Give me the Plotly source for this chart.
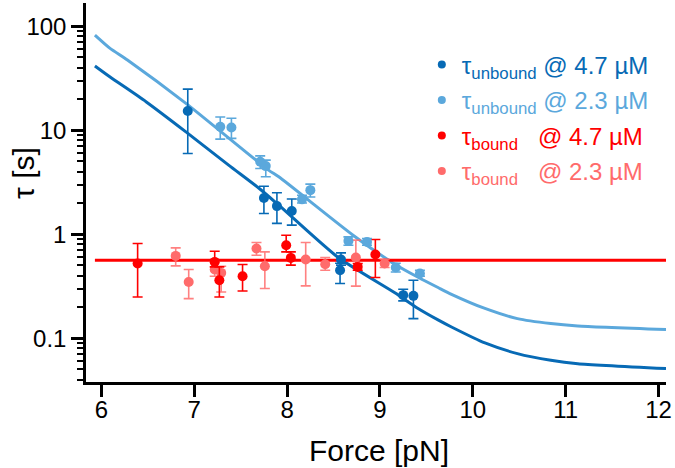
import plotly.graph_objects as go

# Measured lifetimes: unbound state at 4.7 uM and 2.3 uM
force_unbound_47 = [6.93, 7.75, 7.89, 8.05, 8.58, 8.57, 9.25, 9.36]
tau_unbound_47 = [15.3, 2.23, 1.86, 1.67, 0.570, 0.450, 0.259, 0.255]
upper_unbound_47 = [24.8, 2.89, 2.50, 2.18, 0.660, 0.525, 0.295, 0.360]
lower_unbound_47 = [5.97, 1.58, 1.27, 1.22, 0.503, 0.335, 0.228, 0.154]

force_unbound_23 = [7.28, 7.40, 7.71, 7.77, 8.16, 8.25, 8.66, 8.86, 9.17, 9.43]
tau_unbound_23 = [10.8, 10.6, 4.96, 4.51, 2.16, 2.65, 0.861, 0.842, 0.478, 0.418]
upper_unbound_23 = [13.4, 13.0, 5.66, 5.15, 2.37, 3.03, 0.941, 0.908, 0.525, 0.450]
lower_unbound_23 = [8.20, 8.33, 4.28, 3.56, 1.99, 2.28, 0.783, 0.783, 0.433, 0.394]

# Measured lifetimes: bound state at 4.7 uM and 2.3 uM
force_bound_47 = [6.39, 7.22, 7.27, 7.52, 7.99, 8.04, 8.76, 8.95]
tau_bound_47 = [0.522, 0.541, 0.360, 0.394, 0.783, 0.591, 0.484, 0.637]
upper_bound_47 = [0.813, 0.685, 0.484, 0.510, 0.977, 0.675, 0.522, 0.888]
lower_bound_47 = [0.249, 0.484, 0.249, 0.284, 0.675, 0.503, 0.450, 0.383]

force_bound_23 = [6.80, 6.94, 7.22, 7.29, 7.67, 7.76, 8.20, 8.41, 8.74, 9.05]
tau_bound_23 = [0.618, 0.347, 0.457, 0.424, 0.728, 0.491, 0.570, 0.514, 0.596, 0.522]
upper_bound_23 = [0.738, 0.457, 0.537, 0.491, 0.831, 0.675, 0.831, 0.596, 0.875, 0.574]
lower_bound_23 = [0.495, 0.240, 0.394, 0.278, 0.627, 0.300, 0.318, 0.450, 0.316, 0.478]

# Model curves
fit_force_47 = [5.93, 6.09, 6.48, 6.91, 7.37, 7.70, 7.91, 8.55, 9.16, 9.41, 9.63,
                9.77, 10.13, 10.48, 10.84, 11.13, 12.08]
fit_tau_47 = [41.4, 32.6, 18.8, 9.64, 4.61, 2.75, 1.90, 0.596, 0.273, 0.193, 0.149,
              0.128, 0.0898, 0.0710, 0.0612, 0.0567, 0.0509]

fit_force_23 = [5.93, 6.09, 6.28, 6.91, 7.80, 7.91, 8.71, 9.16, 9.41, 9.63, 9.77,
                10.13, 10.48, 10.84, 11.13, 12.08]
fit_tau_23 = [82.2, 61.6, 47.2, 18.1, 4.13, 3.56, 0.977, 0.514, 0.385, 0.305, 0.264,
              0.193, 0.154, 0.138, 0.131, 0.121]

fit_force_bound = [5.93, 12.08]
fit_tau_bound = [0.561, 0.561]

# Axis ticks
x_ticks = [6, 7, 8, 9, 10, 11, 12]
y_ticks = [0.1, 1, 10, 100]
y_tick_text = ["0.1", "1", "10", "100"]

DARK_BLUE = "#076ab5"
LIGHT_BLUE = "#5ba8dc"
RED = "#ff0000"
PINK = "#ff6b6b"

FONT = "Liberation Sans, Arial, Helvetica, sans-serif"

fig = go.Figure()

fig.add_trace(go.Scatter(x=fit_force_23, y=fit_tau_23, mode="lines",
                         line=dict(color=LIGHT_BLUE, width=3, shape="spline", smoothing=0.6),
                         showlegend=False, hoverinfo="skip"))
fig.add_trace(go.Scatter(x=fit_force_47, y=fit_tau_47, mode="lines",
                         line=dict(color=DARK_BLUE, width=3, shape="spline", smoothing=0.6),
                         showlegend=False, hoverinfo="skip"))
fig.add_trace(go.Scatter(x=fit_force_bound, y=fit_tau_bound, mode="lines",
                         line=dict(color=RED, width=3),
                         showlegend=False, hoverinfo="skip"))


def points(force, tau, upper, lower, color, err_color=None):
    plus = [u - t for u, t in zip(upper, tau)]
    minus = [t - l for t, l in zip(tau, lower)]
    return go.Scatter(
        x=force, y=tau, mode="markers", showlegend=False,
        marker=dict(color=color, size=10, line=dict(width=0)),
        error_y=dict(type="data", symmetric=False, array=plus, arrayminus=minus,
                     color=err_color or color, thickness=1.6, width=5),
    )


def legend_entry(sub, conc, color, pad, group):
    # legend-only entry with a smaller dot than the data markers
    name = (f"<span style='color:{color}'>τ<sub>{sub}</sub>"
            + "\u00a0" * pad + f" @ {conc} µM</span>")
    return go.Scatter(x=[None], y=[None], mode="markers", name=name,
                      legendgroup=group,
                      marker=dict(color=color, size=8), showlegend=True)


fig.add_trace(points(force_bound_23, tau_bound_23, upper_bound_23, lower_bound_23,
                     PINK, err_color="rgba(255,107,107,0.85)"))
fig.add_trace(points(force_bound_47, tau_bound_47, upper_bound_47, lower_bound_47, RED))
fig.add_trace(points(force_unbound_23, tau_unbound_23, upper_unbound_23, lower_unbound_23,
                     LIGHT_BLUE))
fig.add_trace(points(force_unbound_47, tau_unbound_47, upper_unbound_47, lower_unbound_47,
                     DARK_BLUE))

fig.add_trace(legend_entry("unbound", "4.7", DARK_BLUE, 0, "a"))
fig.add_trace(legend_entry("unbound", "2.3", LIGHT_BLUE, 0, "b"))
fig.add_trace(legend_entry("bound", "4.7", RED, 2, "c"))
fig.add_trace(legend_entry("bound", "2.3", PINK, 2, "d"))

fig.update_layout(
    width=675, height=468,
    margin=dict(l=86, r=6, t=3, b=86),
    plot_bgcolor="white", paper_bgcolor="white",
    font=dict(family=FONT, size=24, color="black"),
    legend=dict(x=0.579, y=0.896, xanchor="left", yanchor="top",
                traceorder="grouped", tracegroupgap=1.3, bgcolor="rgba(0,0,0,0)",
                font=dict(family=FONT, size=24), itemwidth=30),
    xaxis=dict(range=[5.834, 12.08], tickvals=x_ticks, showgrid=False, zeroline=False,
               showline=True, linecolor="black", linewidth=2.5,
               ticks="outside", ticklen=12, tickwidth=2.5, tickcolor="black",
               ticklabelstandoff=-8,
               tickfont=dict(family=FONT, size=24)),
    yaxis=dict(type="log", range=[-1.422, 2.223], tickvals=y_ticks, ticktext=y_tick_text,
               showgrid=False, zeroline=False,
               showline=True, linecolor="black", linewidth=2.5,
               ticks="outside", ticklen=12, tickwidth=2.5, tickcolor="black",
               tickfont=dict(family=FONT, size=24),
               minor=dict(ticks="outside", ticklen=6, tickwidth=2, tickcolor="black",
                          tickvals=[m * 10 ** e for e in range(-2, 3) for m in range(2, 10)],
                          showgrid=False)),
    annotations=[
        dict(text="Force [pN]", xref="paper", yref="paper", x=0.506, y=-0.18,
             xanchor="center", yanchor="middle", showarrow=False,
             font=dict(family=FONT, size=30)),
        dict(text="τ [s]", xref="paper", yref="paper", x=-0.109, y=0.551,
             xanchor="center", yanchor="middle", textangle=-90, showarrow=False,
             font=dict(family=FONT, size=30)),
    ],
)

fig.write_html("out.html")
